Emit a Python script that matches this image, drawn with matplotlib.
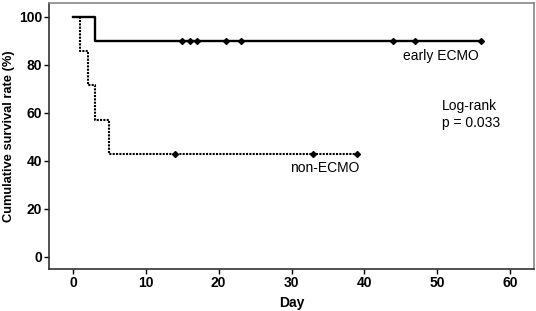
import matplotlib
matplotlib.use('Agg')
import matplotlib.pyplot as plt

plt.rcParams['font.family'] = ['Liberation Sans', 'DejaVu Sans']

# early ECMO group
early_days = [0, 3, 56]
early_surv = [100, 90, 90]
early_cens_days = [15, 16, 17, 21, 23, 44, 47, 56]
early_cens_surv = [90] * len(early_cens_days)

# non-ECMO group
non_days = [0, 1, 2, 3, 5, 39]
non_surv = [100, 85.7, 71.4, 57.1, 42.9, 42.9]
non_cens_days = [14, 33, 39]
non_cens_surv = [42.9] * len(non_cens_days)

x_ticks = [0, 10, 20, 30, 40, 50, 60]
y_ticks = [0, 20, 40, 60, 80, 100]

fig = plt.figure(figsize=(5.36, 3.11), dpi=100)
ax = fig.add_axes([49 / 536, 1 - 269 / 311, (534 - 49) / 536, (269 - 3) / 311])

ax.step(non_days, non_surv, where='post', color='black', lw=1.5, ls=(0, (1, 0.6)))
ax.step(early_days, early_surv, where='post', color='black', lw=1.7)
ax.plot(early_cens_days, early_cens_surv, 'D', color='black', ms=3)
ax.plot(non_cens_days, non_cens_surv, 'D', color='black', ms=3)

ax.set_xlim(-3.3, 63.3)
ax.set_ylim(-5, 105.7)
ax.set_xticks(x_ticks)
ax.set_yticks(y_ticks)
ax.tick_params(direction='out', length=3.5, width=1, labelsize=10, pad=1.5)
for lab in ax.get_xticklabels() + ax.get_yticklabels():
    lab.set_fontweight('bold')

for s in ['left', 'bottom']:
    ax.spines[s].set_color('#333333')
    ax.spines[s].set_linewidth(1.2)
for s in ['top', 'right']:
    ax.spines[s].set_color('#888888')
    ax.spines[s].set_linewidth(1.2)

ax.set_xlabel('Day', fontsize=10, fontweight='bold', labelpad=4)
ax.set_ylabel('Cumulative survival rate (%)', fontsize=9.3, fontweight='bold', labelpad=3)

ax.text(50.5, 83.5, 'early ECMO', fontsize=10, ha='center', va='center')
ax.text(50.6, 62.8, 'Log-rank', fontsize=10, ha='left', va='center')
ax.text(50.6, 55.8, 'p = 0.033', fontsize=10, ha='left', va='center')
ax.text(34.6, 37, 'non-ECMO', fontsize=10, ha='center', va='center')

plt.savefig('out.png', dpi=100)
